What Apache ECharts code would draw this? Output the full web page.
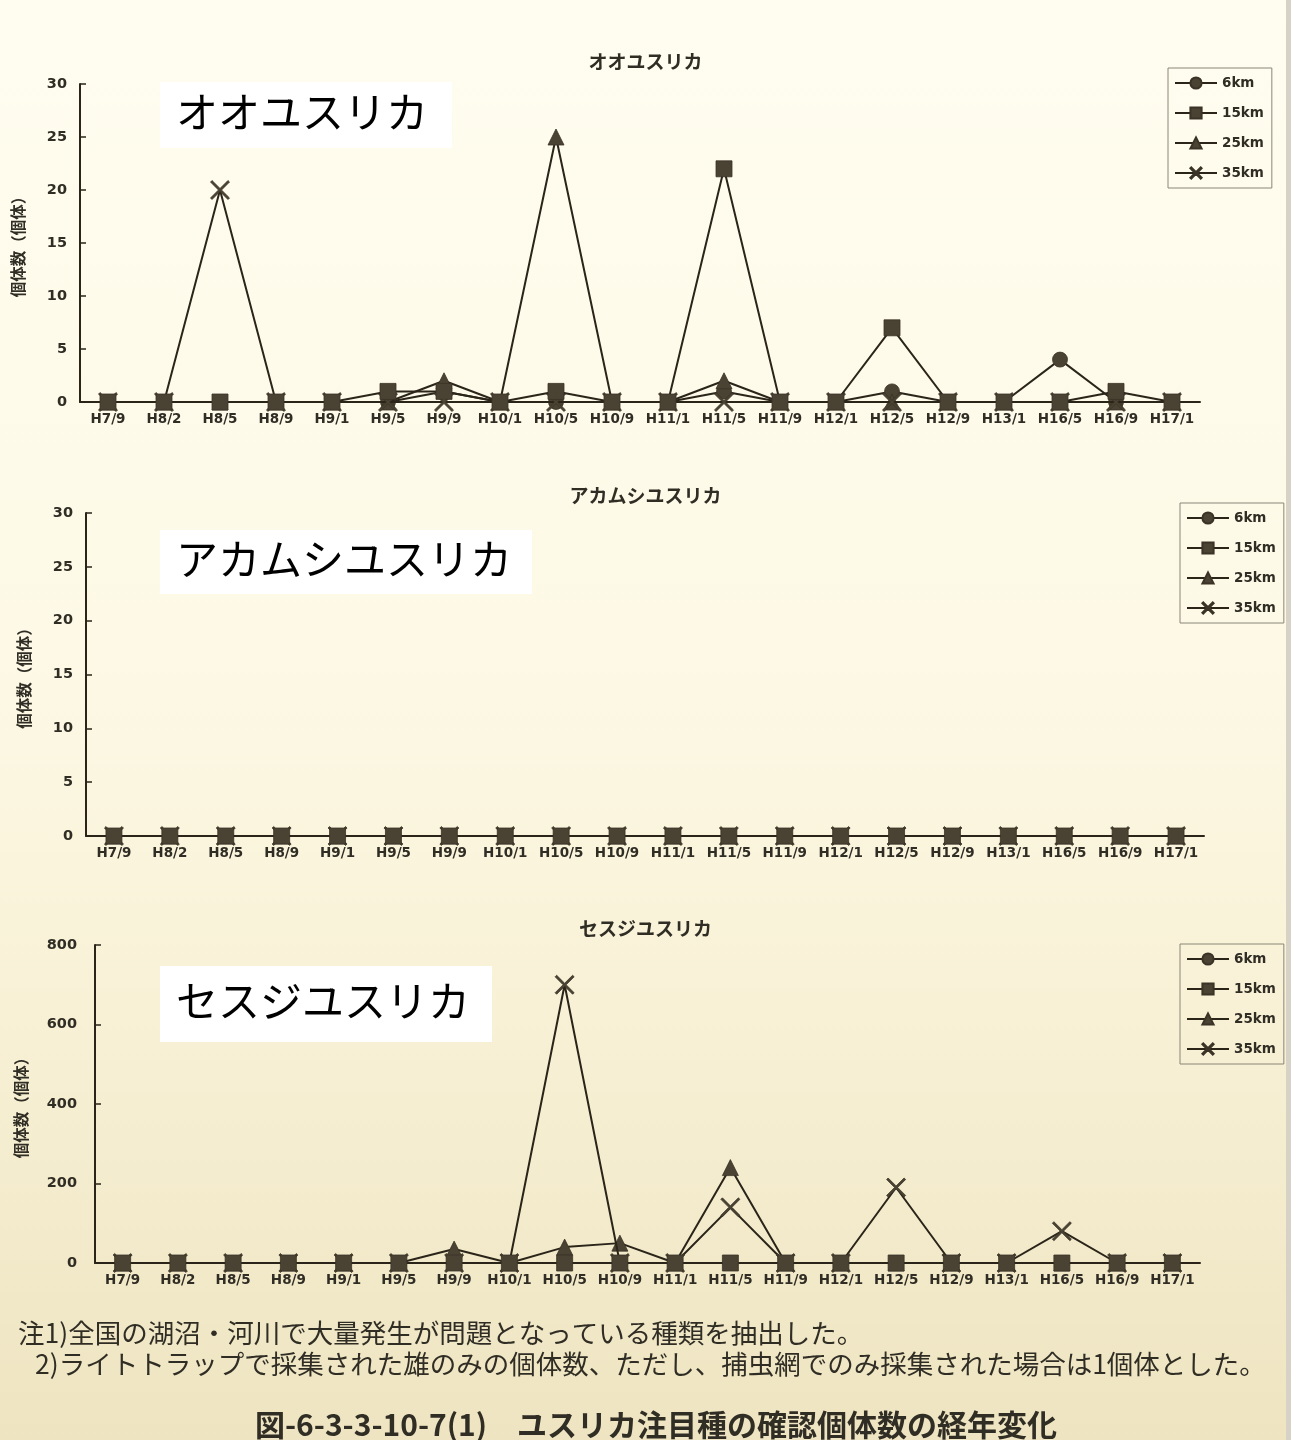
<!DOCTYPE html>
<html>
<head>
<meta charset="utf-8">
<script src="https://cdn.jsdelivr.net/npm/echarts@6/dist/echarts.min.js"></script>
<style>
html,body{margin:0;padding:0;}
#c{width:1291px;height:1440px;}
</style>
</head>
<body>
<div id="c"></div>
<script>
// ---- data ----
const categories = ['H7/9','H8/2','H8/5','H8/9','H9/1','H9/5','H9/9','H10/1','H10/5','H10/9','H11/1','H11/5','H11/9','H12/1','H12/5','H12/9','H13/1','H16/5','H16/9','H17/1'];
const seriesNames = ['6km','15km','25km','35km'];

// オオユスリカ
const oo6  = [0,0,0,0,0,0,1,0,0,0,0,1,0,0,1,0,0,4,0,0];
const oo15 = [0,0,0,0,0,1,1,0,1,0,0,22,0,0,7,0,0,0,1,0];
const oo25 = [0,0,0,0,0,0,2,0,25,0,0,2,0,0,0,0,0,0,0,0];
const oo35 = [0,0,20,0,0,0,0,0,0,0,0,0,0,0,0,0,0,0,0,0];

// アカムシユスリカ
const ak6  = [0,0,0,0,0,0,0,0,0,0,0,0,0,0,0,0,0,0,0,0];
const ak15 = [0,0,0,0,0,0,0,0,0,0,0,0,0,0,0,0,0,0,0,0];
const ak25 = [0,0,0,0,0,0,0,0,0,0,0,0,0,0,0,0,0,0,0,0];
const ak35 = [0,0,0,0,0,0,0,0,0,0,0,0,0,0,0,0,0,0,0,0];

// セスジユスリカ
const se6  = [0,0,0,0,0,0,0,0,0,0,0,0,0,0,0,0,0,0,0,0];
const se15 = [0,0,0,0,0,0,0,0,0,0,0,0,0,0,0,0,0,0,0,0];
const se25 = [0,0,0,0,0,0,35,0,40,50,0,240,0,0,0,0,0,0,0,0];
const se35 = [0,0,0,0,0,0,0,0,700,0,0,140,0,0,190,0,0,80,0,0];

const titles = ['オオユスリカ','アカムシユスリカ','セスジユスリカ'];
const yTicks = [[0,30,5],[0,30,5],[0,800,200]];
const yName = '個体数（個体）';
const note1 = '注1)全国の湖沼・河川で大量発生が問題となっている種類を抽出した。';
const note2 = '2)ライトトラップで採集された雄のみの個体数、ただし、捕虫網でのみ採集された場合は1個体とした。';
const caption = '図-6-3-3-10-7(1)　ユスリカ注目種の確認個体数の経年変化';

// ---- styling ----
const LINE = '#2a2419';
const MARK = '#4a4232';
const TXT = '#302d25';
const crossPath = 'path://M0,0.8 L0.8,0 L5,4.2 L9.2,0 L10,0.8 L5.8,5 L10,9.2 L9.2,10 L5,5.8 L0.8,10 L0,9.2 L4.2,5 Z';
const symbols = {'6km':'circle','15km':'rect','25km':'triangle','35km':crossPath};
const symSize = {'6km':15,'15km':16,'25km':16,'35km':19};
const zOrder = {'6km':2,'15km':5,'25km':3,'35km':4};

const grids = [
  {left:80, right:91, top:84, height:318},
  {left:86, right:87, top:513, height:323},
  {left:95, right:91, top:945, height:318}
];
const dataSets = [[oo6,oo15,oo25,oo35],[ak6,ak15,ak25,ak35],[se6,se15,se25,se35]];
const titleTops = [47,481,914];
const legendPos = [
  {left:1168, top:68},
  {left:1180, top:503},
  {left:1180, top:944}
];
const bigLabels = [
  {x:160, y:82, w:292, h:66},
  {x:160, y:530, w:372, h:64},
  {x:160, y:966, w:332, h:76}
];

const xAxes = [], yAxes = [], series = [], legends = [], titleArr = [], graphics = [];
for (let i = 0; i < 3; i++) {
  xAxes.push({
    type:'category', gridIndex:i, data:categories, boundaryGap:true,
    axisLine:{lineStyle:{color:LINE, width:2}},
    axisTick:{inside:true, length:5, lineStyle:{color:LINE, width:1.5}},
    axisLabel:{interval:0, color:TXT, fontFamily:'DejaVu Sans', fontWeight:'bold', fontSize:13.5, margin:10}
  });
  yAxes.push({
    type:'value', gridIndex:i, min:yTicks[i][0], max:yTicks[i][1], interval:yTicks[i][2],
    name:yName, nameLocation:'middle', nameRotate:90, nameGap: i===2 ? 66 : 54,
    nameTextStyle:{color:TXT, fontFamily:'Noto Sans CJK JP', fontWeight:'bold', fontSize:15.5},
    axisLine:{show:true, lineStyle:{color:LINE, width:2}},
    axisTick:{show:true, inside:true, length:6, lineStyle:{color:LINE, width:1.5}},
    axisLabel:{color:TXT, fontFamily:'DejaVu Sans', fontWeight:'bold', fontSize:14.5, margin: i===2 ? 18 : 13},
    splitLine:{show:false}
  });
  seriesNames.forEach((nm, k) => {
    series.push({
      name:nm, type:'line', xAxisIndex:i, yAxisIndex:i, data:dataSets[i][k],
      symbol:symbols[nm], symbolSize:symSize[nm], showAllSymbol:true,
      z:zOrder[nm],
      lineStyle:{color:LINE, width:2},
      itemStyle:{color:MARK, borderColor:'#3a3326', borderWidth:0.8},
      animation:false
    });
  });
  legends.push({
    data:seriesNames, orient:'vertical', left:legendPos[i].left, top:legendPos[i].top,
    itemWidth:42, itemHeight:14, itemGap:16, padding:[8,8,8,6],
    borderColor:'#8a8678', borderWidth:1, backgroundColor:'rgba(255,255,255,0)',
    textStyle:{color:TXT, fontFamily:'DejaVu Sans', fontWeight:'bold', fontSize:13.5}
  });
  titleArr.push({
    text:titles[i], left:'center', top:titleTops[i],
    textStyle:{color:TXT, fontFamily:'Noto Sans CJK JP', fontWeight:'bold', fontSize:19}
  });
  const b = bigLabels[i];
  graphics.push({
    type:'rect', left:b.x, top:b.y, z:50,
    shape:{width:b.w, height:b.h}, style:{fill:'#ffffff'}
  });
  graphics.push({
    type:'text', left:b.x+16, top:b.y + b.h/2 - 24, z:51,
    style:{text:titles[i], fill:'#000', font:'42px "Noto Sans CJK JP"'}
  });
}
graphics.push({type:'text', left:18, top:1320, z:20,
  style:{text:note1, fill:TXT, font:'26.5px "Noto Sans CJK JP"'}});
graphics.push({type:'text', left:35, top:1351, z:20,
  style:{text:note2, fill:TXT, font:'26.5px "Noto Sans CJK JP"'}});
graphics.push({type:'text', left:255, top:1410, z:20,
  style:{text:caption, fill:TXT, font:'bold 30px "Noto Sans CJK JP"'}});
graphics.push({type:'rect', left:1286, top:0, z:60, shape:{width:5, height:1440}, style:{fill:'#d6d2c6'}});

const chart = echarts.init(document.getElementById('c'), null, {renderer:'canvas'});
chart.setOption({
  animation:false,
  backgroundColor:{type:'linear', x:0, y:0, x2:0, y2:1, colorStops:[
    {offset:0, color:'#fffdf0'},
    {offset:0.45, color:'#fdf9e6'},
    {offset:0.7, color:'#f8f1d6'},
    {offset:1, color:'#eee4c1'}
  ]},
  title:titleArr,
  legend:legends,
  grid:grids,
  xAxis:xAxes,
  yAxis:yAxes,
  series:series,
  graphic:graphics
});
</script>
</body>
</html>
